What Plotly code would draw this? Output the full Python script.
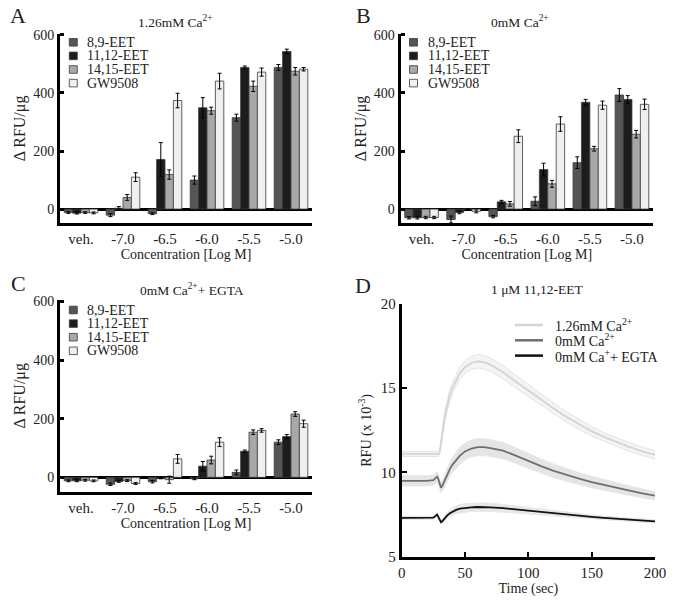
import plotly.graph_objects as go

W, H = 693, 600
FONT = "Liberation Serif"

# ---------------- data ----------------
categories = ["veh.", "-7.0", "-6.5", "-6.0", "-5.5", "-5.0"]
series_names = ["8,9-EET", "11,12-EET", "14,15-EET", "GW9508"]
series_colors = ["#555555", "#1c1c1c", "#a8a8a8", "#efefef"]

# Panel A : 1.26 mM Ca2+
a_89 = [-12, -21, -16, 100, 315, 488]
a_89_err = [3, 5, 3, 14, 12, 10]
a_1112 = [-14, 3, 171, 349, 488, 543]
a_1112_err = [3, 6, 58, 35, 5, 8]
a_1415 = [-12, 40, 119, 339, 423, 475]
a_1415_err = [3, 10, 16, 12, 18, 13]
a_gw = [-13, 110, 374, 441, 472, 482]
a_gw_err = [3, 15, 25, 27, 14, 6]

# Panel B : 0 mM Ca2+
b_89 = [-30, -36, -26, 27, 160, 393]
b_89_err = [4, 12, 4, 15, 20, 22]
b_1112 = [-30, -12, 25, 136, 368, 378]
b_1112_err = [4, 4, 5, 22, 10, 13]
b_1415 = [-29, 0, 18, 87, 208, 258]
b_1415_err = [4, 0, 8, 12, 8, 13]
b_gw = [-29, -8, 251, 293, 358, 361]
b_gw_err = [4, 5, 22, 25, 14, 18]

# Panel C : 0 mM Ca2+ + EGTA
c_89 = [-12, -24, -15, -5, 17, 120]
c_89_err = [3, 4, 4, 3, 8, 8]
c_1112 = [-12, -14, -3, 38, 89, 139]
c_1112_err = [3, 3, 2, 16, 4, 7]
c_1415 = [-10, -11, -8, 59, 154, 216]
c_1415_err = [3, 3, 12, 13, 8, 8]
c_gw = [-12, -21, 63, 120, 160, 183]
c_gw_err = [3, 3, 15, 15, 6, 12]

# Panel D : time courses (RFU x 10^-3)
time_s = [0, 5, 10, 15, 20, 25, 28, 29, 30, 31, 32, 34, 36, 38, 40, 43, 46, 50, 55,
          60, 65, 70, 80, 90, 100, 110, 120, 130, 140, 150, 160, 170, 180, 190, 200]
ca126 = [11.1, 11.1, 11.1, 11.1, 11.1, 11.1, 11.1, 11.1, 11.2, 11.8, 12.4, 13.3, 14.0,
         14.6, 15.0, 15.5, 15.9, 16.25, 16.5, 16.6, 16.55, 16.4, 15.95, 15.4, 14.85,
         14.3, 13.8, 13.3, 12.85, 12.45, 12.1, 11.8, 11.5, 11.25, 11.05]
ca126_sem = [0.15, 0.15, 0.15, 0.15, 0.15, 0.15, 0.15, 0.15, 0.15, 0.2, 0.25, 0.3, 0.3,
             0.35, 0.35, 0.35, 0.35, 0.38, 0.4, 0.4, 0.4, 0.4, 0.4, 0.38, 0.36, 0.34,
             0.32, 0.3, 0.3, 0.28, 0.26, 0.25, 0.25, 0.25, 0.25]
ca0 = [9.5, 9.5, 9.5, 9.52, 9.5, 9.55, 9.75, 9.6, 9.25, 9.1, 9.2, 9.55, 9.9, 10.2,
       10.45, 10.75, 11.0, 11.25, 11.42, 11.5, 11.5, 11.45, 11.3, 11.0, 10.68, 10.38,
       10.1, 9.85, 9.63, 9.43, 9.25, 9.08, 8.92, 8.76, 8.62]
ca0_sem = [0.3, 0.3, 0.3, 0.3, 0.3, 0.3, 0.3, 0.3, 0.3, 0.3, 0.3, 0.35, 0.4, 0.42,
           0.45, 0.48, 0.5, 0.5, 0.5, 0.5, 0.5, 0.5, 0.48, 0.46, 0.44, 0.42, 0.4,
           0.38, 0.36, 0.34, 0.32, 0.3, 0.28, 0.26, 0.25]
egta = [7.3, 7.3, 7.3, 7.3, 7.3, 7.32, 7.5, 7.35, 7.15, 7.05, 7.1, 7.3, 7.45, 7.58,
        7.68, 7.78, 7.85, 7.9, 7.93, 7.95, 7.95, 7.93, 7.88, 7.8, 7.72, 7.65, 7.57,
        7.5, 7.43, 7.36, 7.3, 7.25, 7.2, 7.15, 7.1]
egta_sem = [0.1, 0.1, 0.1, 0.1, 0.1, 0.1, 0.1, 0.1, 0.1, 0.12, 0.14, 0.16, 0.18, 0.2,
            0.22, 0.24, 0.25, 0.25, 0.25, 0.25, 0.25, 0.25, 0.24, 0.22, 0.2, 0.18,
            0.16, 0.14, 0.12, 0.11, 0.1, 0.1, 0.1, 0.1, 0.1]
trace_names = ["1.26mM Ca<sup>2+</sup>", "0mM Ca<sup>2+</sup>", "0mM Ca<sup>+</sup>+ EGTA"]
trace_colors = ["#d4d4d4", "#6f6f6f", "#111111"]
band_colors = ["rgba(244,244,244,1)", "rgba(226,226,226,0.9)", "rgba(228,228,228,0.9)"]
band_edge_colors = ["#e4e4e4", "#e6e6e6", "#e8e8e8"]


def px(x):
    return x / W


def py(y):
    return 1 - y / H


fig = go.Figure()

panels = [
    ("x", "y", [(a_89, a_89_err), (a_1112, a_1112_err), (a_1415, a_1415_err), (a_gw, a_gw_err)]),
    ("x2", "y2", [(b_89, b_89_err), (b_1112, b_1112_err), (b_1415, b_1415_err), (b_gw, b_gw_err)]),
    ("x3", "y3", [(c_89, c_89_err), (c_1112, c_1112_err), (c_1415, c_1415_err), (c_gw, c_gw_err)]),
]
for xa, ya, series in panels:
    for (vals, errs), name, col in zip(series, series_names, series_colors):
        fig.add_trace(go.Bar(
            x=categories, y=vals, name=name, xaxis=xa, yaxis=ya, showlegend=False,
            marker=dict(color=col, line=dict(color="#3a3a3a", width=0.8)),
            error_y=dict(type="data", array=errs, color="black", thickness=1, width=2),
        ))

# Panel D bands then lines
for mean, sem, bcol, ecol in zip([ca126, ca0, egta], [ca126_sem, ca0_sem, egta_sem],
                                 band_colors, band_edge_colors):
    upper = [m + s for m, s in zip(mean, sem)]
    lower = [m - s for m, s in zip(mean, sem)]
    fig.add_trace(go.Scatter(x=time_s, y=upper, xaxis="x4", yaxis="y4", mode="lines",
                             line=dict(color=ecol, width=1), showlegend=False,
                             hoverinfo="skip"))
    fig.add_trace(go.Scatter(x=time_s, y=lower, xaxis="x4", yaxis="y4", mode="lines",
                             line=dict(color=ecol, width=1), fill="tonexty",
                             fillcolor=bcol, showlegend=False, hoverinfo="skip"))
for mean, col, name in zip([ca126, ca0, egta], trace_colors, trace_names):
    fig.add_trace(go.Scatter(x=time_s, y=mean, xaxis="x4", yaxis="y4", mode="lines",
                             line=dict(color=col, width=1.8), name=name, showlegend=False))

# ---------------- axes ----------------
bar_y = dict(range=[-49, 605], tickvals=[0, 200, 400, 600], ticks="inside", ticklen=4,
             tickwidth=2.5, tickcolor="black", showline=True, linewidth=3, linecolor="black",
             zeroline=True, zerolinewidth=3, zerolinecolor="black", showgrid=False,
             tickfont=dict(family=FONT, size=14, color="#222"), automargin=False,
             title=dict(text="Δ RFU/μg", font=dict(family=FONT, size=16, color="#222"), standoff=4))
bar_x = dict(type="category", showline=True, linewidth=3, linecolor="black", ticks="",
             showgrid=False, tickfont=dict(family=FONT, size=15, color="#222"), automargin=False,
             title=dict(text="Concentration [Log M]", font=dict(family=FONT, size=14, color="#222"),
                        standoff=2))

fig.update_layout(
    width=W, height=H, margin=dict(l=0, r=0, t=0, b=0),
    paper_bgcolor="white", plot_bgcolor="white",
    barmode="group", bargap=0.2, bargroupgap=0.0,
    font=dict(family=FONT, size=14, color="#222"),
    xaxis=dict(bar_x, domain=[px(60), px(312)], anchor="y"),
    yaxis=dict(bar_y, domain=[py(223.3), py(33.5)], anchor="x"),
    xaxis2=dict(bar_x, domain=[px(400.5), px(653)], anchor="y2"),
    yaxis2=dict(bar_y, domain=[py(223.3), py(33.5)], anchor="x2"),
    xaxis3=dict(bar_x, domain=[px(60), px(312)], anchor="y3"),
    yaxis3=dict(bar_y, domain=[py(491.7), py(300)], anchor="x3"),
    xaxis4=dict(range=[0, 200], tickvals=[0, 50, 100, 150, 200], ticks="inside", ticklen=5,
                tickwidth=2, tickcolor="black", showline=True, linewidth=3, linecolor="black",
                showgrid=False, zeroline=False, anchor="y4", domain=[px(401.7), px(655)],
                tickfont=dict(family=FONT, size=15, color="#222"), automargin=False,
                title=dict(text="Time (sec)", font=dict(family=FONT, size=14, color="#222"),
                           standoff=4)),
    yaxis4=dict(range=[5, 20], tickvals=[5, 10, 15, 20], ticks="inside", ticklen=5,
                tickwidth=2, tickcolor="black", showline=True, linewidth=3, linecolor="black",
                showgrid=False, zeroline=False, anchor="x4", domain=[py(556.7), py(304)],
                tickfont=dict(family=FONT, size=15, color="#222"), automargin=False,
                title=dict(text="RFU (x 10<sup>-3</sup>)",
                           font=dict(family=FONT, size=14, color="#222"), standoff=6)),
)

# ---------------- annotations: panel letters & titles ----------------
ann = []
for letter, x, y in [("A", 18, 16), ("B", 363, 16), ("C", 18, 283), ("D", 363, 285)]:
    ann.append(dict(text=letter, x=px(x), y=py(y), xref="paper", yref="paper",
                    xanchor="center", yanchor="middle",
                    showarrow=False, font=dict(family=FONT, size=22, color="#222")))
for title, x, y in [("1.26mM Ca<sup>2+</sup>", 175, 22), ("0mM Ca<sup>2+</sup>", 520, 22),
                    ("0mM Ca<sup>2+</sup>+ EGTA", 192, 289), ("1 μM 11,12-EET", 537, 289)]:
    ann.append(dict(text=title, x=px(x), y=py(y), xref="paper", yref="paper",
                    xanchor="center", yanchor="middle",
                    showarrow=False, font=dict(family=FONT, size=13.5, color="#222")))

# ---------------- manual legends ----------------
shapes = []
row_gap = 13.6
for (lx, ly) in [(69.3, 42.3), (409.5, 42.3), (69.3, 310)]:
    for i, (name, col) in enumerate(zip(series_names, series_colors)):
        cy = ly + i * row_gap
        shapes.append(dict(type="rect", xref="paper", yref="paper",
                           x0=px(lx), x1=px(lx + 8), y0=py(cy + 3.8), y1=py(cy - 3.8),
                           fillcolor=col, line=dict(color="#3a3a3a", width=0.8)))
        ann.append(dict(text=name, x=px(lx + 16), y=py(cy), xref="paper", yref="paper",
                        xanchor="left", yanchor="middle", showarrow=False,
                        font=dict(family=FONT, size=14, color="#222")))

for i, (name, col) in enumerate(zip(trace_names, trace_colors)):
    cy = 325 + i * 15.3
    shapes.append(dict(type="line", xref="paper", yref="paper", x0=px(515), x1=px(543),
                       y0=py(cy), y1=py(cy), line=dict(color=col, width=2.5)))
    ann.append(dict(text=name, x=px(553), y=py(cy), xref="paper", yref="paper",
                    xanchor="left", yanchor="middle", showarrow=False,
                    font=dict(family=FONT, size=14, color="#222")))

fig.update_layout(annotations=ann, shapes=shapes)
fig.write_html("out.html", config={"displayModeBar": False},
               post_script="document.body.style.margin='0';document.body.style.overflow='hidden';")
